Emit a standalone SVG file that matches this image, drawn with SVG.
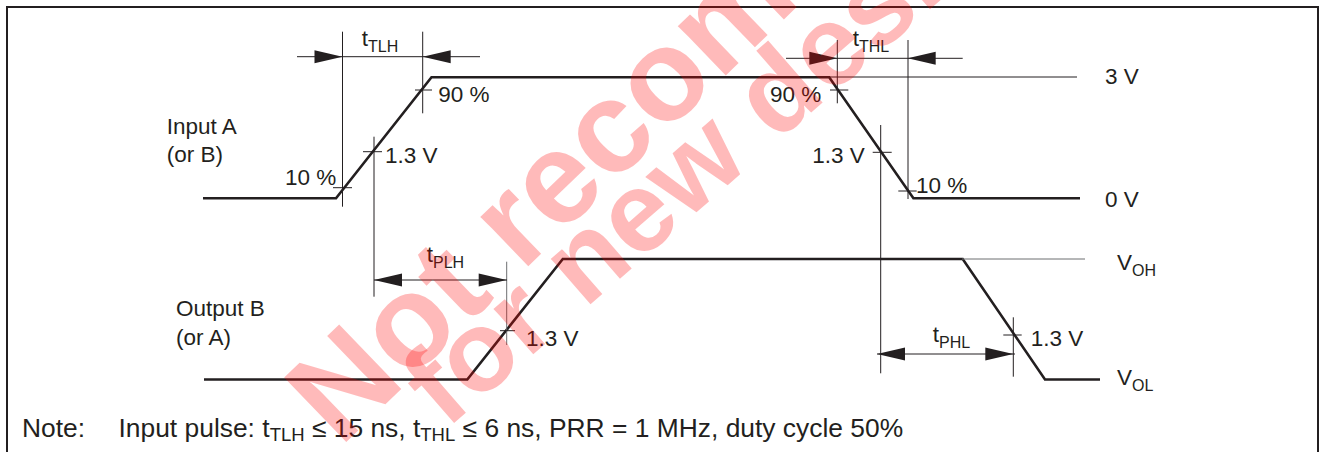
<svg xmlns="http://www.w3.org/2000/svg" width="1328" height="452" viewBox="0 0 1328 452">
<style>
.frame{fill:none;stroke:#231f20;stroke-width:2}
.wave{fill:none;stroke:#231f20;stroke-width:2.6;stroke-linejoin:miter}
.ref{fill:none;stroke:#231f20;stroke-width:1}
.refg{fill:none;stroke:#6d6e70;stroke-width:1}
.dim{fill:none;stroke:#231f20;stroke-width:1}
.arr{fill:#231f20;stroke:none}
.lbl{font-family:"Liberation Sans",Arial,sans-serif;font-size:22.5px;fill:#231f20}
.note{font-family:"Liberation Sans",Arial,sans-serif;font-size:26.4px;fill:#231f20}
.wm{font-family:"Liberation Sans",Arial,sans-serif;font-weight:bold;fill:#ff0000;fill-opacity:0.27}
</style>
<rect width="1328" height="452" fill="#ffffff"/>
<rect class="frame" x="7" y="7" width="1311" height="470"/>

<g id="input-wave">
<polyline class="wave" points="203,198.3 336,198.3 431.5,77.3 829.2,77.3 913.4,198.3 1080,198.3"/>
<line class="ref" x1="829" y1="77" x2="1077" y2="77"/>
<text class="lbl" x="166.7" y="134.3">Input A</text>
<text class="lbl" x="166.7" y="161.5">(or B)</text>
<text class="lbl" x="1105" y="83.5">3 V</text>
<text class="lbl" x="1105" y="206.5">0 V</text>
</g>

<g id="output-wave">
<polyline class="wave" points="204,379.5 467.3,379.5 562.8,259 962.7,259 1045,379.5 1100,379.5"/>
<line class="refg" x1="962" y1="259" x2="1085" y2="259"/>
<text class="lbl" x="176" y="316">Output B</text>
<text class="lbl" x="176" y="345">(or A)</text>
<text class="lbl" x="1117" y="270">V<tspan font-size="16" dy="5.5">OH</tspan></text>
<text class="lbl" x="1117" y="385">V<tspan font-size="16" dy="5.5">OL</tspan></text>
</g>

<g id="connectors">
<line class="dim" x1="297" y1="56.7" x2="480" y2="56.7"/>
<line class="dim" x1="342.5" y1="31.7" x2="342.5" y2="206.7"/>
<line class="dim" x1="422.7" y1="31.7" x2="422.7" y2="113.3"/>
<polygon class="arr" points="342.5,56.7 314.5,50.2 314.5,63.2"/>
<polygon class="arr" points="422.7,56.7 450.7,50.2 450.7,63.2"/>
<line class="dim" x1="786" y1="58.3" x2="962.7" y2="58.3"/>
<line class="dim" x1="837.3" y1="40" x2="837.3" y2="103.3"/>
<line class="dim" x1="908" y1="40" x2="908" y2="199"/>
<polygon class="arr" points="837.3,58.3 809.3,51.8 809.3,64.8"/>
<polygon class="arr" points="907.7,58.3 935.7,51.8 935.7,64.8"/>
<line class="dim" x1="374" y1="136.7" x2="374" y2="296.7"/>
<line class="refg" x1="506.7" y1="261.7" x2="506.7" y2="345"/>
<line class="dim" x1="374" y1="280" x2="507" y2="280"/>
<polygon class="arr" points="374,280 402,273.5 402,286.5"/>
<polygon class="arr" points="506.7,280 478.7,273.5 478.7,286.5"/>
<line class="dim" x1="880.7" y1="125" x2="880.7" y2="373.3"/>
<line class="dim" x1="1013.3" y1="317.3" x2="1013.3" y2="376.7"/>
<line class="dim" x1="877" y1="354" x2="1015" y2="354"/>
<polygon class="arr" points="877,354 905,347.5 905,360.5"/>
<polygon class="arr" points="1013.3,354 985.3,347.5 985.3,360.5"/>
<line class="dim" x1="333" y1="187.7" x2="352" y2="187.7"/>
<line class="dim" x1="363" y1="151.7" x2="382" y2="151.7"/>
<line class="dim" x1="415" y1="90" x2="432" y2="90"/>
<line class="dim" x1="830" y1="90" x2="848.3" y2="90"/>
<line class="dim" x1="872.7" y1="152.3" x2="891.7" y2="152.3"/>
<line class="dim" x1="898.3" y1="191" x2="916.7" y2="191"/>
<line class="dim" x1="500" y1="330.7" x2="515" y2="330.7"/>
<line class="dim" x1="1003.3" y1="335" x2="1021.7" y2="335"/>
</g>

<g id="labels">
<text class="lbl" x="361.7" y="46">t<tspan font-size="16" dy="5.7">TLH</tspan></text>
<text class="lbl" x="852.7" y="46">t<tspan font-size="16" dy="5.7">THL</tspan></text>
<text class="lbl" x="426.7" y="262">t<tspan font-size="16" dy="5.5">PLH</tspan></text>
<text class="lbl" x="932.7" y="342">t<tspan font-size="16" dy="5.5">PHL</tspan></text>
<text class="lbl" x="285" y="185">10 %</text>
<text class="lbl" x="385" y="163">1.3 V</text>
<text class="lbl" x="438.3" y="101.7">90 %</text>
<text class="lbl" x="770" y="101.7">90 %</text>
<text class="lbl" x="812.3" y="163.3">1.3 V</text>
<text class="lbl" x="916" y="192.7">10 %</text>
<text class="lbl" x="526" y="345.7">1.3 V</text>
<text class="lbl" x="1030.7" y="346">1.3 V</text>
</g>

<g id="note">
<text class="note" x="22" y="436.5">Note:</text>
<text class="note" x="118.5" y="436.5">Input pulse: t<tspan font-size="18.5" dy="4.5">TLH</tspan><tspan dy="-4.5"> ≤ 15 ns, t</tspan><tspan font-size="18.5" dy="4.5">THL</tspan><tspan dy="-4.5"> ≤ 6 ns, PRR = 1 MHz, duty cycle 50%</tspan></text>
</g>

<g id="watermark">
<text class="wm" font-size="130" transform="translate(340,448) rotate(-44)">Not recommended</text>
<text class="wm" font-size="114" transform="translate(446,430) rotate(-41)">for new designs</text>
</g>
</svg>
